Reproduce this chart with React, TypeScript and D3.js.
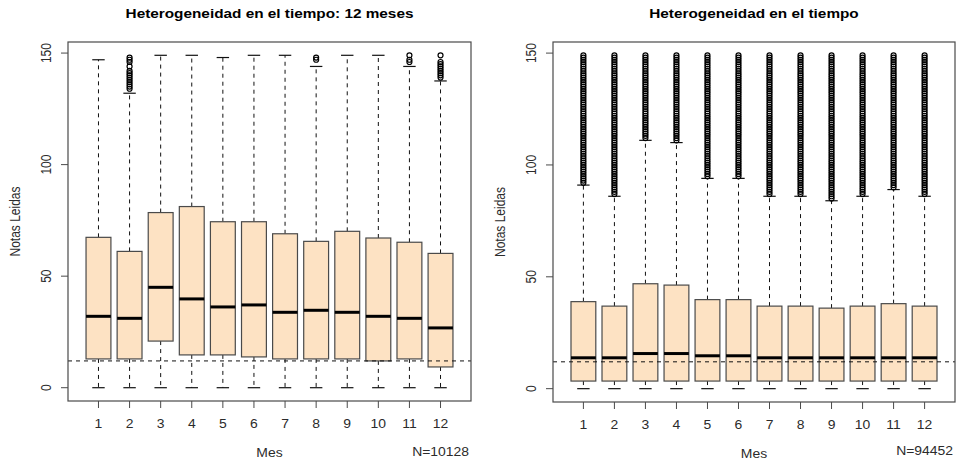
import React from 'react';
import * as d3 from 'd3';

const months = ['1', '2', '3', '4', '5', '6', '7', '8', '9', '10', '11', '12'];
const yTicks = [0, 50, 100, 150];

// panel 1: 12 meses (N=10128)
const q1Left = [12.9, 12.9, 20.9, 14.7, 14.7, 13.8, 12.9, 12.9, 12.9, 12.0, 12.9, 9.3];
const medLeft = [32.0, 31.1, 45.0, 39.8, 36.2, 37.1, 33.8, 34.7, 33.8, 32.0, 31.1, 26.8];
const q3Left = [67.4, 61.1, 78.5, 81.2, 74.4, 74.4, 69.0, 65.6, 70.1, 67.1, 65.2, 60.2];
const loLeft = [0, 0, 0, 0, 0, 0, 0, 0, 0, 0, 0, 0];
const hiLeft = [147, 132, 149, 149, 148, 149, 149, 144, 149, 149, 144, 137.5];
const outLeft = [
  [],
  [134, 135, 136, 137, 138, 139, 140, 141, 142, 144, 146, 147, 148],
  [],
  [],
  [],
  [],
  [],
  [147, 148],
  [],
  [],
  [146, 147, 149],
  [139, 140, 141, 142, 143, 144, 145, 146, 149],
];

// panel 2: todo el tiempo (N=94452)
const q1Right = [3.4, 3.4, 3.4, 3.4, 3.4, 3.4, 3.4, 3.4, 3.4, 3.4, 3.4, 3.4];
const medRight = [13.8, 13.8, 15.7, 15.7, 14.7, 14.7, 13.8, 13.8, 13.8, 13.8, 13.8, 13.8];
const q3Right = [38.9, 36.9, 46.9, 46.3, 39.8, 39.8, 36.9, 36.9, 36.0, 36.9, 38.0, 36.9];
const loRight = [0, 0, 0, 0, 0, 0, 0, 0, 0, 0, 0, 0];
const hiRight = [91, 86, 111, 110, 94, 94, 86, 86, 84, 86, 89, 86];
// outliers: every integer count from the first value up to the last
const outFromRight = [92, 87, 112, 111, 95, 95, 87, 87, 85, 87, 90, 87];
const outToRight = [149, 149, 149, 149, 149, 149, 149, 149, 149, 149, 149, 149];

const refLine = 12;

type PanelProps = {
  title: string;
  note: string;
  left: number;
  right: number;
  top: number;
  bottom: number;
  q1: number[];
  med: number[];
  q3: number[];
  lo: number[];
  hi: number[];
  out: number[][];
  noteY: number;
};

const font = 'Liberation Sans, Arial, sans-serif';
const fill = '#FDE2C3';
const edge = '#4a4a4a';
// the original png was stretched sideways, so text is wider than usual
const sx = 1.16;

const Label = ({ x, y, rot = false, anchor = 'middle', size = 12, bold = false, stretch = sx, children }: any) => (
  <text
    transform={`translate(${x},${y}) scale(${stretch},1)${rot ? ' rotate(-90)' : ''}`}
    textAnchor={anchor}
    fontFamily={font}
    fontSize={size}
    fontWeight={bold ? 'bold' : 'normal'}
    fill={bold ? '#000' : '#2b2b2b'}
  >
    {children}
  </text>
);

const Panel = (p: PanelProps) => {
  const x = d3.scaleLinear().domain([0.02, 12.98]).range([p.left, p.right]);
  const y = d3.scaleLinear().domain([-5.96, 154.96]).range([p.bottom, p.top]);
  const step = x(2) - x(1);
  const bw = step * 0.8;
  const cx = (p.left + p.right) / 2;
  const cy = (p.top + p.bottom) / 2;

  return (
    <g>
      <Label x={cx} y={18} size={13} bold stretch={1.18}>
        {p.title}
      </Label>

      {months.map((m, i) => {
        const xc = x(i + 1);
        return (
          <g key={m}>
            <line x1={xc} x2={xc} y1={y(p.q3[i])} y2={y(p.hi[i])} stroke="#111" strokeDasharray="4,4" />
            <line x1={xc} x2={xc} y1={y(p.q1[i])} y2={y(p.lo[i])} stroke="#111" strokeDasharray="4,4" />
            <line x1={xc - bw / 4} x2={xc + bw / 4} y1={y(p.hi[i])} y2={y(p.hi[i])} stroke="#111" strokeWidth={1.2} />
            <line x1={xc - bw / 4} x2={xc + bw / 4} y1={y(p.lo[i])} y2={y(p.lo[i])} stroke="#111" strokeWidth={1.2} />
            <rect
              x={xc - bw / 2}
              y={y(p.q3[i])}
              width={bw}
              height={y(p.q1[i]) - y(p.q3[i])}
              fill={fill}
              stroke={edge}
              strokeWidth={1.2}
            />
            <line x1={xc - bw / 2} x2={xc + bw / 2} y1={y(p.med[i])} y2={y(p.med[i])} stroke="#000" strokeWidth={3} />
            {p.out[i].map((v, j) => (
              <circle key={j} cx={xc} cy={y(v)} r={2.5} fill="none" stroke="#000" strokeWidth={1.2} />
            ))}
          </g>
        );
      })}

      <line x1={p.left} x2={p.right} y1={y(refLine)} y2={y(refLine)} stroke="#111" strokeDasharray="4,4" />

      <rect x={p.left} y={p.top} width={p.right - p.left} height={p.bottom - p.top} fill="none" stroke={edge} strokeWidth={1.2} />

      {yTicks.map((t) => (
        <g key={t}>
          <line x1={p.left - 7} x2={p.left} y1={y(t)} y2={y(t)} stroke={edge} />
          <Label x={p.left - 17} y={y(t)} rot>
            {t}
          </Label>
        </g>
      ))}
      <Label x={p.left - 48} y={cy} rot>
        Notas Leidas
      </Label>

      {months.map((m, i) => (
        <g key={m}>
          <line x1={x(i + 1)} x2={x(i + 1)} y1={p.bottom} y2={p.bottom + 7} stroke={edge} />
          <Label x={x(i + 1)} y={p.bottom + 27}>
            {m}
          </Label>
        </g>
      ))}
      <Label x={cx} y={p.bottom + 56}>
        Mes
      </Label>
      <Label x={p.right - 2} y={p.noteY} anchor="end">
        {p.note}
      </Label>
    </g>
  );
};

export default function App() {
  const outRight = outFromRight.map((f, i) => d3.range(f, outToRight[i] + 1));
  return (
    <svg
      width={957}
      height={463}
      style={{ position: 'absolute', left: 0, top: 0, background: '#fff' }}
    >
      <Panel
        title="Heterogeneidad en el tiempo: 12 meses"
        note="N=10128"
        left={68}
        right={471}
        top={42}
        bottom={401}
        q1={q1Left}
        med={medLeft}
        q3={q3Left}
        lo={loLeft}
        hi={hiLeft}
        out={outLeft}
        noteY={456}
      />
      <Panel
        title="Heterogeneidad en el tiempo"
        note="N=94452"
        left={553}
        right={955}
        top={42}
        bottom={402}
        q1={q1Right}
        med={medRight}
        q3={q3Right}
        lo={loRight}
        hi={hiRight}
        out={outRight}
        noteY={455}
      />
    </svg>
  );
}
